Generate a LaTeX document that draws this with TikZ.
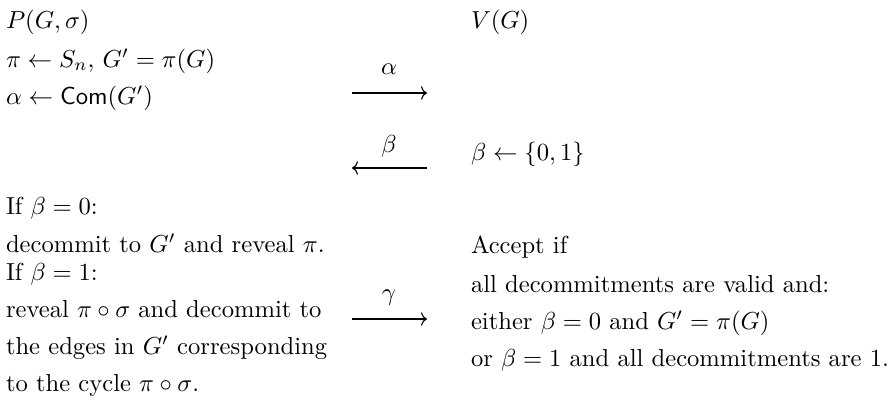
\documentclass[tikz,border=0pt]{standalone}
\usetikzlibrary{arrows.meta}
\begin{document}
\begin{tikzpicture}[x=0.4065pt,y=-0.4065pt,
  txt/.style={anchor=base west,inner sep=0pt,outer sep=0pt},
  lbl/.style={anchor=base,inner sep=0pt,outer sep=0pt},
  msg/.style={line width=0.45pt,-{To[length=2.4pt,width=5.5pt]}}]
\useasboundingbox (0,0) rectangle (891,410);
% prover column
\node[txt] (p0) at (6,29) {$P(G,\sigma)$};
\node[txt] (p1) at (6,67) {$\pi \leftarrow S_n,\, G' = \pi(G)$};
\node[txt] (p2) at (6,104) {$\alpha \leftarrow \mathsf{Com}(G')$};
\node[txt] (p3) at (6,214) {If $\beta = 0$:};
\node[txt] (p4) at (6,252) {decommit to $G'$ and reveal $\pi$.};
\node[txt] (p5) at (6,280) {If $\beta = 1$:};
\node[txt] (p6) at (6,317) {reveal $\pi \circ \sigma$ and decommit to};
\node[txt] (p7) at (6,354) {the edges in $G'$ corresponding};
\node[txt] (p8) at (6,391) {to the cycle $\pi \circ \sigma$.};
% verifier column
\node[txt] (v0) at (471,29) {$V(G)$};
\node[txt] (v1) at (471,160) {$\beta \leftarrow \{0,1\}$};
\node[txt] (v2) at (471,253) {Accept if};
\node[txt] (v3) at (471,292) {all decommitments are valid and:};
\node[txt] (v4) at (471,329) {either $\beta = 0$ and $G' = \pi(G)$};
\node[txt] (v5) at (471,366) {or $\beta = 1$ and all decommitments are 1.};
% messages
\coordinate (a1) at (352,93); \coordinate (a2) at (427,93);
\draw[msg] (a1) -- (a2);
\node[lbl] (la) at (389,74) {$\alpha$};
\coordinate (b1) at (427,168); \coordinate (b2) at (352,168);
\draw[msg] (b1) -- (b2);
\node[lbl] (lb) at (389,152) {$\beta$};
\coordinate (c1) at (352,319); \coordinate (c2) at (427,319);
\draw[msg] (c1) -- (c2);
\node[lbl] (lc) at (389,300) {$\gamma$};
\end{tikzpicture}
\end{document}
